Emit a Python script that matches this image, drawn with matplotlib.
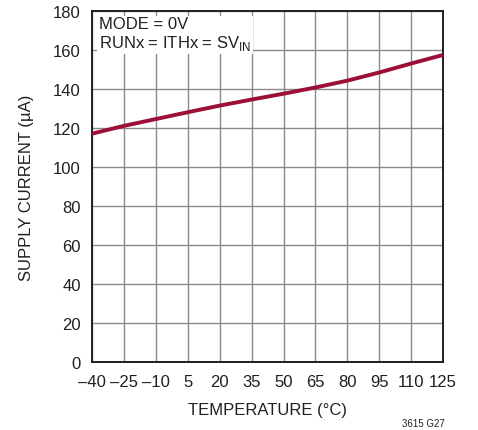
import numpy as np
import matplotlib.pyplot as plt

plt.rcParams['font.family'] = ['Liberation Sans', 'DejaVu Sans']

# data
temp = [-40, -25, -10, 5, 20, 35, 50, 65, 80, 95, 110, 125]
current = [117.1, 121.1, 124.6, 128.1, 131.5, 134.6, 137.6, 140.8, 144.3, 148.5, 153.1, 157.5]
xticks = [-40, -25, -10, 5, 20, 35, 50, 65, 80, 95, 110, 125]
yticks = [0, 20, 40, 60, 80, 100, 120, 140, 160, 180]

fig = plt.figure(figsize=(4.78, 4.31), dpi=100)
ax = fig.add_axes([0.1925, 0.158, 0.7345, 0.814])

ax.plot(temp, current, color='#9c1037', lw=2.8, solid_capstyle='butt', zorder=3)

ax.set_xlim(-40, 125)
ax.set_ylim(0, 180)
ax.set_xticks(xticks)
ax.set_yticks(yticks)
ax.set_xticklabels([str(t).replace('-', '\u2013') for t in xticks])
ax.grid(True, color='#8a8a8a', lw=1.0)
ax.tick_params(axis='y', length=0, labelsize=12, pad=8, colors='#231f20')
ax.tick_params(axis='x', length=0, labelsize=12, pad=9, colors='#231f20')
for s in ax.spines.values():
    s.set_linewidth(1.4)
    s.set_color('#231f20')

ax.set_xlabel('TEMPERATURE (°C)', fontsize=12, color='#231f20', labelpad=9)
ax.set_ylabel('SUPPLY CURRENT (µA)', fontsize=12, color='#231f20', labelpad=14)

ax.text(0.02, 0.985, 'MODE = 0V\nRUNx = ITHx = SV$_{\\mathregular{IN}}$', transform=ax.transAxes,
        ha='left', va='top', fontsize=12, color='#231f20', linespacing=1.15,
        bbox=dict(facecolor='white', edgecolor='none', pad=1.5), zorder=4)

fig.text(0.931, 0.005, '3615 G27', ha='right', va='bottom', fontsize=7, color='#231f20')

fig.savefig('out.png', dpi=100)
